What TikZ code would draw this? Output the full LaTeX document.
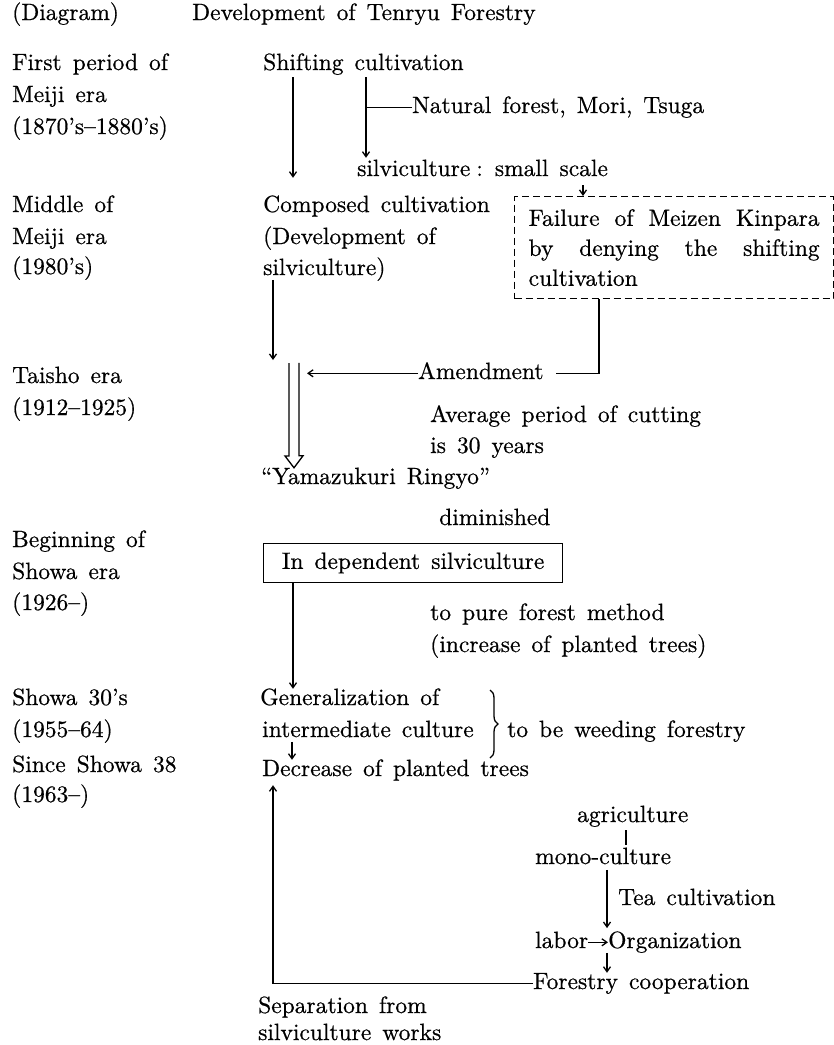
\documentclass[tikz,border=0pt]{standalone}
\usepackage{fontspec}
\setmainfont{lmroman10-regular.otf}[FakeBold=0.6]
\usetikzlibrary{arrows.meta,decorations.pathreplacing}
\newcommand\dgfont{\fontsize{23.5}{30}\selectfont\spaceskip=11pt plus 5pt minus 2pt\relax}
\begin{document}
\begin{tikzpicture}[x=1pt,y=-1pt,
  txt/.style={anchor=base west, inner sep=0pt, text height=16pt, text depth=4.6pt, font=\dgfont},
  ln/.style={line width=1.3pt},
  arr/.style={ln, -{Straight Barb[length=5pt,width=7pt]}},
  dsh/.style={ln, dash pattern=on 7pt off 4pt},
]
\fill[white] (0,0) rectangle (834,1045);
\useasboundingbox (0,0) rectangle (834,1045);

% left column
\node[txt] (diag) at (12,20) {(Diagram)};
\node[txt] (title) at (192,20) {Development of Tenryu Forestry};
\node[txt] (p1a) at (12,70) {First period of};
\node[txt] (p1b) at (12,102) {Meiji era};
\node[txt] (p1c) at (12,134) {(1870's--1880's)};
\node[txt] (p2a) at (12,212) {Middle of};
\node[txt] (p2b) at (12,244) {Meiji era};
\node[txt] (p2c) at (12,274) {(1980's)};
\node[txt] (p3a) at (12,383) {Taisho era};
\node[txt] (p3b) at (12,415) {(1912--1925)};
\node[txt] (p4a) at (12,547) {Beginning of};
\node[txt] (p4b) at (12,579) {Showa era};
\node[txt] (p4c) at (12,610) {(1926--)};
\node[txt] (p5a) at (12,705) {Showa 30's};
\node[txt] (p5b) at (12,737) {(1955--64)};
\node[txt] (p6a) at (12,772) {Since Showa 38};
\node[txt] (p6b) at (12,802) {(1963--)};

% main flow
\node[txt] (shift) at (263,70) {Shifting cultivation};
\node[txt] (natural) at (412,113) {Natural forest, Mori, Tsuga};
\node[txt] (silvA) at (357,176) {silviculture\hspace{6pt}:\hspace{12pt}small scale};
\node[txt] (composed) at (263,212) {Composed cultivation};
\node[txt] (devel) at (263,244) {(Development of};
\node[txt] (silvB) at (263,275) {silviculture)};
\node[draw, dsh, anchor=north west, inner sep=0pt, minimum width=319pt, minimum height=102pt, font=\dgfont] (fail) at (514,196)
  {\vbox{\baselineskip=30pt
   \hbox to 291pt{Failure\hfill of\hfill Meizen\hfill Kinpara}
   \hbox to 291pt{by\hfill denying\hfill the\hfill shifting}
   \hbox{cultivation}}};
\node[txt] (amend) at (418,379) {Amendment};
\node[txt] (avg) at (430,422) {Average period of cutting};
\node[txt] (is30) at (430,453) {is 30 years};
\node[txt] (yama) at (261,484) {``Yamazukuri Ringyo''};
\node[txt] (dimin) at (439,525) {diminished};
\node[draw, ln, anchor=north west, minimum width=299pt, minimum height=39pt, inner sep=0pt, text height=16pt, text depth=4.6pt, font=\dgfont] (indep) at (263,543) {In dependent silviculture};
\node[txt] (pure) at (430,620) {to pure forest method};
\node[txt] (incr) at (430,652) {(increase of planted trees)};
\node[txt] (gen) at (260,705) {Generalization of};
\node[txt] (inter) at (262,737) {intermediate culture};
\node[txt] (weed) at (507,737) {to be weeding forestry};
\node[txt] (dec) at (262,776) {Decrease of planted trees};
\node[txt] (agri) at (577,822) {agriculture};
\node[txt] (mono) at (535,864) {mono-culture};
\node[txt] (tea) at (618,905) {Tea cultivation};
\node[txt] (labor) at (535,948) {labor};
\node[txt] (org) at (608,948) {Organization};
\node[txt] (fc) at (533,989) {Forestry cooperation};
\node[txt] (sep) at (258,1013) {Separation from};
\node[txt] (works) at (258,1040) {silviculture works};

% x positions of vertical connectors
\coordinate (cA) at (293,0);
\coordinate (cB) at (366,0);
\coordinate (cC) at (583,0);
\coordinate (cD) at (273,0);
\coordinate (cE) at (599,0);
\coordinate (cF) at (626,0);
\coordinate (cG) at (607,0);
\coordinate (cH) at (292,0);
\coordinate (cI) at (307,0);
\coordinate (join) at (273,360);
\coordinate (dtop) at (294,363);
\coordinate (brT) at (490,690);
\coordinate (brB) at (490,758);

% connectors
\draw[arr, shorten <=2.4pt, shorten >=18pt] (shift.south -| cA) -- (composed.north -| cA);
\draw[arr, shorten <=2.4pt, shorten >=2pt] (shift.south -| cB) -- (silvA.north -| cB);
\draw[ln] (natural.west) -- (natural.west -| cB);
\draw[arr, shorten <=4.4pt] (silvA.south -| cC) -- (fail.north -| cC);
\draw[arr] (silvB.south -| cD) -- (join);
\draw[ln] (dtop) ++(-5,0) -- ++(0,93) -- ++(-4,0) -- (yama.north -| dtop) -- ++(9,-12) -- ++(-4,0) -- ++(0,-93);
\draw[arr] (amend.west) -- (amend.west -| cI);
\draw[ln] (fail.south -| cE) |- ([xshift=12pt]amend.east);
\draw[arr] (indep.south -| cA) -- (gen.north -| cA);
\draw[ln, decorate, decoration={brace, amplitude=8pt}] (brT) -- (brB);
\draw[arr] (inter.south -| cH) -- (dec.north -| cH);
\draw[arr, shorten >=4.4pt] (fc.west) -| (dec.south -| cD);
\draw[ln, shorten <=3.4pt, shorten >=3pt] (agri.south -| cF) -- (mono.north -| cF);
\draw[arr, shorten <=1pt, shorten >=3.7pt] (mono.south -| cG) -- (org.north -| cG);
\draw[arr] (labor.east) -- (org.west);
\draw[arr] (org.south -| cG) -- (fc.north -| cG);
\end{tikzpicture}
\end{document}
